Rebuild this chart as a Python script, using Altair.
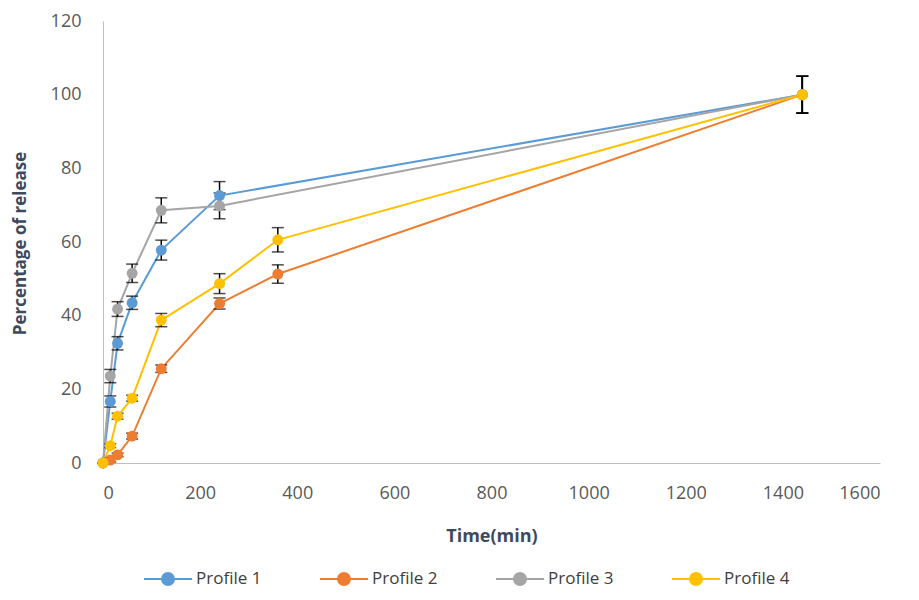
import altair as alt
import pandas as pd

profiles = ["Profile 1", "Profile 2", "Profile 3", "Profile 4"]
colors = ["#5B9BD5", "#ED7D31", "#A5A5A5", "#FFC000"]

t1 = [0, 15, 30, 60, 120, 240, 1440]
p1 = [0, 16.7, 32.5, 43.5, 57.8, 72.6, 100]
e1 = [0, 1.5, 1.8, 1.8, 2.7, 3.8, 5]

t2 = [0, 15, 30, 60, 120, 240, 360, 1440]
p2 = [0, 0.8, 2.2, 7.3, 25.6, 43.3, 51.3, 100]
e2 = [0, 0.5, 0.5, 0.8, 1.0, 1.5, 2.5, 5]

t3 = [0, 15, 30, 60, 120, 240, 1440]
p3 = [0, 23.6, 41.8, 51.5, 68.6, 69.8, 100]
e3 = [0, 1.8, 2.0, 2.5, 3.4, 3.5, 5]

t4 = [0, 15, 30, 60, 120, 240, 360, 1440]
p4 = [0, 4.7, 12.7, 17.6, 38.8, 48.7, 60.6, 100]
e4 = [0, 0.5, 0.8, 0.8, 1.8, 2.7, 3.3, 5]

x_ticks = [0, 200, 400, 600, 800, 1000, 1200, 1400, 1600]
y_ticks = [0, 20, 40, 60, 80, 100, 120]

rows = []
for name, ts, ps, es in zip(profiles, [t1, t2, t3, t4], [p1, p2, p3, p4], [e1, e2, e3, e4]):
    for t, p, e in zip(ts, ps, es):
        rows.append({"profile": name, "time": t, "value": p, "lo": p - e, "hi": p + e})
df = pd.DataFrame(rows)

FONT = "Open Sans"
sym_path = "M-1,0L1,0M0.25,0A0.25,0.25,0,1,1,-0.25,0A0.25,0.25,0,1,1,0.25,0Z"

legend = alt.Legend(
    title=None, orient="none", direction="horizontal",
    legendX=40, legendY=533,
    symbolType=sym_path, symbolSize=2304, symbolStrokeWidth=2,
    labelFont=FONT, labelFontSize=17, labelColor="#404040",
    labelOffset=3, columnPadding=54, labelLimit=200,
)

x = alt.X("time:Q", scale=alt.Scale(domain=[0, 1600], nice=False),
          axis=alt.Axis(values=x_ticks, format="d", grid=False, ticks=False, title="Time(min)",
                        labelFont=FONT, labelFontSize=18, labelColor="#595959", labelPadding=21,
                        domainColor="#BFBFBF", domainWidth=1,
                        titleFont=FONT, titleFontSize=18, titleFontWeight="bold",
                        titleColor="#3E4A5C", titleY=73, titleBaseline="middle"))
y = alt.Y("value:Q", scale=alt.Scale(domain=[0, 120], nice=False),
          axis=alt.Axis(values=y_ticks, format="d", grid=False, ticks=False, title="Percentage of release",
                        labelFont=FONT, labelFontSize=18, labelColor="#595959", labelPadding=22,
                        domainColor="#BFBFBF", domainWidth=1,
                        titleFont=FONT, titleFontSize=17, titleFontWeight="bold",
                        titleColor="#3E4A5C", titleX=-83, titleY=222, titleAngle=270,
                        titleAlign="center", titleBaseline="middle"))
color = alt.Color("profile:N", scale=alt.Scale(domain=profiles, range=colors), legend=legend)

base = alt.Chart(df)
lines = base.mark_line(strokeWidth=2).encode(x=x, y=y, color=color)
rules = base.mark_rule(color="black", strokeWidth=1.5).encode(x="time:Q", y="lo:Q", y2="hi:Q")
cap_lo = base.mark_tick(orient="horizontal", color="black", size=12, thickness=1.5).encode(x="time:Q", y="lo:Q")
cap_hi = base.mark_tick(orient="horizontal", color="black", size=12, thickness=1.5).encode(x="time:Q", y="hi:Q")
points = base.mark_point(filled=True, size=120, opacity=1).encode(x=x, y=y, color=color)

chart = alt.layer(lines, rules, cap_lo, cap_hi, points).properties(
    width=777, height=442,
    background="white",
    autosize=alt.AutoSizeParams(type="none"),
    padding={"left": 103, "top": 21, "right": 39, "bottom": 137},
).configure_view(stroke=None)

chart.save("out.html", embed_options={"renderer": "svg", "actions": False})
